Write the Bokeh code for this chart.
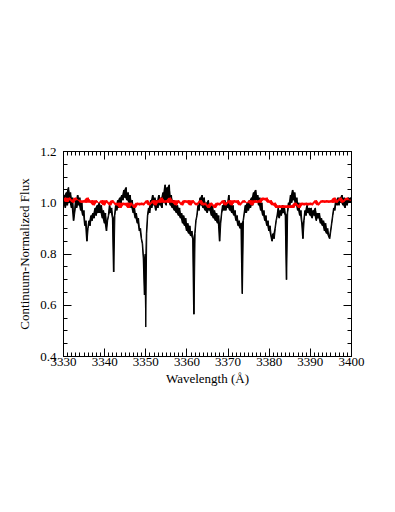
import numpy as np
from bokeh.plotting import figure
from bokeh.models import (LinearAxis, SingleIntervalTicker, FixedTicker, Range1d,
                          ColumnDataSource, PrintfTickFormatter)
from bokeh.embed import file_html
from bokeh.resources import INLINE

# ---- data ----
x_limits = (3330, 3400)
y_limits = (0.4, 1.2)
x_tick_interval = 10
y_major_ticks = [0.4, 0.6, 0.8, 1.0, 1.2]
y_minor_step = 0.05

# observed spectrum (black), sampled every 0.25 A starting at 3330 A
black_start = 3330.0
black_step = 0.25
black_flux = [
    1.00, 1.03, 0.98, 1.04, 0.99, 1.06, 1.00, 1.04,   # 3330
    0.98, 1.02, 0.93, 0.96, 1.01, 0.98, 1.03, 0.99,   # 3332
    1.02, 0.97, 1.00, 0.95, 0.97, 0.91, 0.93, 0.85,   # 3334
    0.90, 0.93, 0.91, 0.95, 0.93, 0.96, 0.94, 0.98,   # 3336
    0.95, 0.99, 0.96, 1.00, 0.96, 0.99, 0.94, 0.97,   # 3338
    0.92, 0.96, 0.89, 0.93, 0.95, 0.99, 0.96, 0.98,   # 3340
    0.94, 0.73, 0.95, 0.99, 0.97, 1.01, 0.98, 1.02,   # 3342
    0.99, 1.03, 1.01, 1.05, 1.02, 1.06, 1.01, 1.04,   # 3344
    1.00, 1.03, 0.98, 1.01, 0.96, 0.99, 0.94, 0.96,   # 3346
    0.92, 0.94, 0.89, 0.90, 0.86, 0.84, 0.78, 0.64,   # 3348
    0.515, 0.88, 0.95, 0.98, 0.96, 1.01, 0.98, 1.03,  # 3350
    0.99, 1.02, 0.97, 1.01, 0.98, 1.03, 0.99, 1.02,   # 3352
    0.98, 1.04, 1.00, 1.07, 0.99, 1.06, 1.01, 1.07,   # 3354
    0.99, 1.03, 0.98, 1.01, 0.97, 1.00, 0.96, 0.99,   # 3356
    0.95, 0.98, 0.94, 0.96, 0.92, 0.95, 0.91, 0.94,   # 3358
    0.89, 0.92, 0.88, 0.91, 0.87, 0.89, 0.86, 0.565,  # 3360
    0.88, 0.93, 0.95, 0.99, 0.97, 1.02, 0.99, 1.03,   # 3362
    0.98, 1.02, 0.97, 1.00, 0.96, 1.01, 0.97, 0.99,   # 3364
    0.95, 0.99, 0.94, 0.97, 0.93, 0.96, 0.92, 0.95,   # 3366
    0.85, 0.92, 0.96, 0.99, 0.97, 1.01, 0.97, 1.00,   # 3368
    0.98, 1.03, 0.97, 1.00, 0.96, 0.99, 0.95, 0.97,   # 3370
    0.93, 0.95, 0.91, 0.93, 0.90, 0.92, 0.645, 0.93,  # 3372
    0.96, 0.99, 0.96, 1.00, 0.97, 1.01, 0.98, 1.02,   # 3374
    0.99, 1.04, 1.00, 1.05, 1.01, 1.03, 0.99, 1.02,   # 3376
    0.97, 1.00, 0.95, 0.97, 0.93, 0.95, 0.91, 0.93,   # 3378
    0.89, 0.91, 0.87, 0.85, 0.88, 0.86, 0.90, 0.93,   # 3380
    0.95, 0.98, 0.94, 0.97, 0.95, 0.99, 0.96, 0.98,   # 3382
    0.95, 0.70, 0.96, 1.00, 0.98, 1.03, 1.00, 1.05,   # 3384
    1.01, 1.04, 0.99, 1.02, 0.97, 1.00, 0.95, 0.97,   # 3386
    0.92, 0.86, 0.93, 0.97, 0.95, 0.99, 0.96, 0.98,   # 3388
    0.95, 0.98, 0.94, 0.97, 0.95, 0.98, 0.93, 0.96,   # 3390
    0.94, 0.96, 0.92, 0.94, 0.91, 0.93, 0.89, 0.92,   # 3392
    0.88, 0.90, 0.87, 0.86, 0.89, 0.92, 0.95, 0.98,   # 3394
    0.97, 1.01, 0.99, 1.02, 0.99, 1.02, 1.00, 1.03,   # 3396
    0.99, 1.02, 0.98, 1.01, 0.99, 1.02, 1.00, 1.02,   # 3398
    1.00,                                             # 3400
]
# extra sample between the two close lines near 3350 A
black_extra_wl = [3349.875]
black_extra_flux = [0.80]

# model / comparison spectrum (red), sampled every 0.5 A starting at 3330 A
red_start = 3330.0
red_step = 0.5
red_flux = [
    1.01, 1.02, 1.00, 1.02, 1.01, 1.00, 1.02, 1.01, 1.01, 1.00,   # 3330
    1.01, 1.00, 1.02, 1.00, 1.01, 0.99, 1.01, 1.00, 1.00, 1.01,   # 3335
    0.99, 1.01, 1.00, 0.99, 1.01, 1.00, 0.99, 1.00, 0.98, 1.00,   # 3340
    0.99, 1.00, 0.98, 1.00, 0.99, 0.98, 1.00, 0.99, 1.00, 0.99,   # 3345
    1.00, 1.01, 0.99, 1.00, 1.01, 0.99, 1.01, 1.00, 1.02, 1.00,   # 3350
    1.01, 1.00, 1.02, 1.00, 1.01, 0.99, 1.01, 1.00, 0.99, 1.01,   # 3355
    1.00, 1.01, 0.99, 1.01, 1.00, 0.99, 1.00, 1.01, 0.99, 1.00,   # 3360
    0.99, 0.98, 1.00, 0.99, 0.98, 1.00, 0.99, 1.00, 1.01, 0.99,   # 3365
    1.00, 1.01, 0.99, 1.01, 1.00, 1.01, 0.99, 1.00, 1.01, 1.00,   # 3370
    1.00, 1.01, 0.99, 1.01, 1.00, 1.01, 1.00, 1.02, 1.01, 1.02,   # 3375
    1.00, 1.01, 0.99, 1.00, 0.98, 0.99, 0.98, 0.99, 0.98, 0.99,   # 3380
    0.98, 0.99, 0.98, 1.00, 0.99, 0.98, 1.00, 0.99, 1.00, 0.99,   # 3385
    1.00, 0.99, 1.00, 1.01, 0.99, 1.00, 1.01, 1.00, 1.01, 1.00,   # 3390
    1.01, 1.00, 1.02, 1.00, 1.01, 1.02, 1.00, 1.01, 1.02, 1.01,   # 3395
    1.01,                                                         # 3400
]

x_label = "Wavelength (Å)"
y_label = "Continuum-Normalized Flux"


# ---- build series ----
def band(f):
    """Upper/lower edges of the dense noise band spanned by neighbouring samples."""
    nxt = np.append(f[1:], f[-1])
    return np.minimum(f, nxt), np.maximum(f, nxt)


bw = black_start + black_step * np.arange(len(black_flux))
bw = np.concatenate([bw, np.array(black_extra_wl)])
bf = np.concatenate([np.array(black_flux), np.array(black_extra_flux)])
order = np.argsort(bw)
bw, bf = bw[order], bf[order]
b_lo, b_hi = band(bf)
black_src = ColumnDataSource(dict(x=bw, y=bf, lo=b_lo, hi=b_hi))

rw = red_start + red_step * np.arange(len(red_flux))
rf = np.array(red_flux)
r_lo, r_hi = band(rf)
red_src = ColumnDataSource(dict(x=rw, y=rf, lo=r_lo, hi=r_hi))

FONT = "Liberation Serif"

p = figure(width=379, height=420, output_backend="svg", toolbar_location=None,
           x_range=Range1d(*x_limits), y_range=Range1d(*y_limits),
           x_axis_label=x_label, y_axis_label=y_label,
           min_border_left=63, min_border_right=28,
           min_border_top=151, min_border_bottom=64)
p.background_fill_color = "white"
p.border_fill_color = "white"
p.outline_line_color = "black"
p.xgrid.visible = False
p.ygrid.visible = False

p.varea(x="x", y1="lo", y2="hi", source=black_src, fill_color="black")
p.line("x", "y", source=black_src, line_color="black", line_width=1)
p.varea(x="x", y1="lo", y2="hi", source=red_src, fill_color="#ff0000")
p.line("x", "y", source=red_src, line_color="#ff0000", line_width=1)


def style_axis(ax, ticker, show_labels):
    ax.ticker = ticker
    ax.major_tick_in = 8
    ax.major_tick_out = 0
    ax.minor_tick_in = 4
    ax.minor_tick_out = 0
    ax.axis_line_color = "black"
    ax.major_tick_line_color = "black"
    ax.minor_tick_line_color = "black"
    ax.major_label_text_font = FONT
    ax.major_label_text_font_size = "13px"
    ax.major_label_text_color = "black"
    ax.axis_label_text_font = FONT
    ax.axis_label_text_font_size = "13px"
    ax.axis_label_text_font_style = "normal"
    ax.axis_label_text_color = "black"
    if not show_labels:
        ax.major_label_text_font_size = "0px"
        ax.major_label_text_color = None


def xt():
    return SingleIntervalTicker(interval=x_tick_interval, num_minor_ticks=10)


y_minor = list(np.round(np.arange(y_limits[0], y_limits[1] + 1e-9, y_minor_step), 3))


def yt():
    return FixedTicker(ticks=y_major_ticks, minor_ticks=y_minor)


xa = p.xaxis[0]
style_axis(xa, xt(), True)
xa.major_label_standoff = 1
xa.axis_label_standoff = 2

ya = p.yaxis[0]
style_axis(ya, yt(), True)
ya.formatter = PrintfTickFormatter(format="%.1f")
ya.major_label_standoff = 7
ya.axis_label_standoff = 5

top = LinearAxis()
style_axis(top, xt(), False)
p.add_layout(top, "above")

right = LinearAxis()
style_axis(right, yt(), False)
p.add_layout(right, "right")

open("out.html", "w").write(file_html(p, INLINE))
